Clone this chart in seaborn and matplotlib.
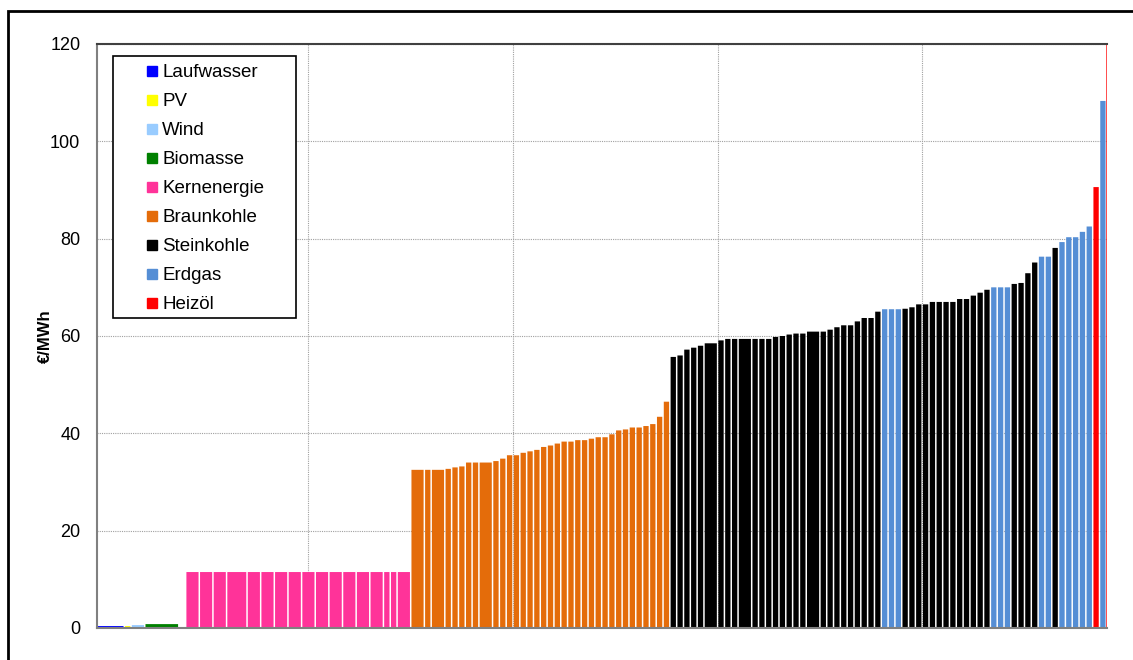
import numpy as np
import pandas as pd
import matplotlib
matplotlib.use("Agg")
import matplotlib.pyplot as plt
from matplotlib.lines import Line2D
from matplotlib.patches import Rectangle
import seaborn as sns

# ---------------- data ----------------
legend_order = ["Laufwasser", "PV", "Wind", "Biomasse", "Kernenergie",
                "Braunkohle", "Steinkohle", "Erdgas", "Heizöl"]
colors = {"Laufwasser": "#0000FF", "PV": "#FFFF00", "Wind": "#99CCFF",
          "Biomasse": "#008000", "Kernenergie": "#FF3399",
          "Braunkohle": "#E46C0A", "Steinkohle": "#000000",
          "Erdgas": "#558ED5", "Heizöl": "#FF0000"}

renew_fuels = ["Laufwasser", "PV", "Wind", "Biomasse", "Biomasse"]
renew_widths = [4, 1, 2, 5, 1]
renew_prices = [0.4, 0.4, 0.6, 0.8, 0.0]

kern_widths = [2, 2, 2, 3, 2, 2, 2, 2, 2, 2, 2, 2, 2, 2, 1, 1, 2]
kern_prices = [11.5, 11.5, 11.5, 11.5, 11.5, 11.5, 11.5, 11.5, 11.5,
               11.5, 11.5, 11.5, 11.5, 11.5, 11.5, 11.5, 11.5]

braun_widths = [2, 1, 2, 1, 1, 1, 1, 1, 2, 1, 1, 1, 1, 1, 1, 1, 1, 1,
                1, 1, 1, 1, 1, 1, 1, 1, 1, 1, 1, 1, 1, 1, 1, 1, 1]
braun_prices = [32.5, 32.5, 32.5, 32.7, 33.0, 33.2, 34.0, 34.0, 34.0,
                34.3, 34.8, 35.5, 35.5, 36.0, 36.3, 36.6, 37.2, 37.5,
                37.9, 38.3, 38.3, 38.6, 38.6, 38.9, 39.2, 39.2, 39.8,
                40.6, 40.8, 41.2, 41.2, 41.5, 41.9, 43.4, 46.5]

fossil_fuels = (["Steinkohle"] * 28 + ["Erdgas"] * 3 + ["Steinkohle"] * 13 +
                ["Erdgas"] * 3 + ["Steinkohle"] * 4 + ["Erdgas"] * 2 +
                ["Steinkohle"] + ["Erdgas"] * 5 + ["Heizöl", "Erdgas", "Heizöl"])
fossil_widths = [1, 1, 1, 1, 1, 2, 1, 1, 1, 2, 1, 1, 1, 1, 1, 1, 1, 1, 2, 1,
                 1, 1, 1, 1, 1, 1, 1, 1,
                 1, 1, 1,
                 1, 1, 1, 1, 1, 1, 1, 1, 1, 1, 1, 1, 1,
                 1, 1, 1,
                 1, 1, 1, 1,
                 1, 1,
                 1,
                 1, 1, 1, 1, 1,
                 1, 1, 0.1]
fossil_prices = [55.7, 56.0, 57.2, 57.6, 58.0, 58.5, 59.1, 59.4, 59.4, 59.4,
                 59.4, 59.4, 59.4, 59.8, 60.0, 60.3, 60.5, 60.5, 60.9, 60.9,
                 61.3, 61.8, 62.2, 62.2, 63.0, 63.7, 63.7, 65.0,
                 65.5, 65.5, 65.5,
                 65.6, 65.9, 66.5, 66.5, 67.0, 67.0, 67.0, 67.0, 67.6, 67.6,
                 68.3, 68.9, 69.5,
                 70.0, 70.0, 70.0,
                 70.7, 70.9, 72.9, 75.1,
                 76.3, 76.3,
                 78.1,
                 79.3, 80.3, 80.3, 81.4, 82.5,
                 90.6, 108.3, 130.0]

y_ticks = [0, 20, 40, 60, 80, 100, 120]
x_grid = [31, 61, 91, 121]

df = pd.DataFrame({
    "fuel": renew_fuels + ["Kernenergie"] * len(kern_widths)
            + ["Braunkohle"] * len(braun_widths) + fossil_fuels,
    "width": renew_widths + kern_widths + braun_widths + fossil_widths,
    "price": renew_prices + kern_prices + braun_prices + fossil_prices,
})
df["left"] = df["width"].cumsum() - df["width"]

# ---------------- plot ----------------
sns.set_theme(style="white")
plt.rcParams["font.family"] = ["Liberation Sans", "DejaVu Sans"]
plt.rcParams["text.color"] = "black"
plt.rcParams["axes.labelcolor"] = "black"

W, H = 1133, 660
fig = plt.figure(figsize=(W / 100, H / 100), dpi=100)
ax = fig.add_axes([97 / W, 32 / H, 1010 / W, 584 / H])

gap = 0.22
drawn_w = np.where(df["width"] >= 1, df["width"] - gap, df["width"])
offset = np.where(df["width"] >= 1, gap / 2, 0)
bars = ax.bar(df["left"] + offset, df["price"], width=drawn_w, align="edge",
              color=[colors[f] for f in df["fuel"]], linewidth=0, zorder=2)
for b in bars:
    b.set_snap(False)

ax.set_xlim(0, df["width"].sum())
ax.set_ylim(0, 120)
ax.set_yticks(y_ticks)
ax.set_xticks(x_grid)
ax.set_xticklabels([])
ax.tick_params(axis="x", length=0)
ax.tick_params(axis="y", length=0, pad=12, labelsize=13, colors="black")
ax.set_axisbelow(True)
ax.grid(True, color="#A0A0A0", linestyle=(0, (1, 1)), linewidth=0.8)

for s in ["left", "bottom"]:
    ax.spines[s].set_color("#808080")
    ax.spines[s].set_linewidth(1.5)
ax.spines["top"].set_color("#404040")
ax.spines["top"].set_linewidth(1.5)
ax.spines["right"].set_visible(False)

ax.set_ylabel("€/MWh", fontsize=12, fontweight="bold", color="black")
ax.yaxis.set_label_coords((53 - 97) / 1010, 0.5)

# legend box
fig.patches.append(Rectangle((113 / W, 1 - 318 / H), (296 - 113) / W, (318 - 56) / H,
                             transform=fig.transFigure, facecolor="white",
                             edgecolor="black", linewidth=1.2, zorder=3))
handles = [Line2D([], [], marker="s", linestyle="none", color=colors[f],
                  markersize=6.5) for f in legend_order]
leg = fig.legend(handles, legend_order, loc="upper left",
                 bbox_to_anchor=(147 / W, 1 - 64 / H), bbox_transform=fig.transFigure,
                 frameon=False, borderpad=0, borderaxespad=0, fontsize=13.5,
                 handlelength=0.55, handletextpad=0.27, labelspacing=0.635)
leg.set_zorder(4)
for t in leg.get_texts():
    t.set_color("black")

# outer chart border
fig.patches.append(Rectangle((8 / W, -0.1), 1.2, 1 - 11 / H + 0.1,
                             transform=fig.transFigure, facecolor="none",
                             edgecolor="black", linewidth=2, zorder=5))

fig.savefig("out.png", dpi=100)
